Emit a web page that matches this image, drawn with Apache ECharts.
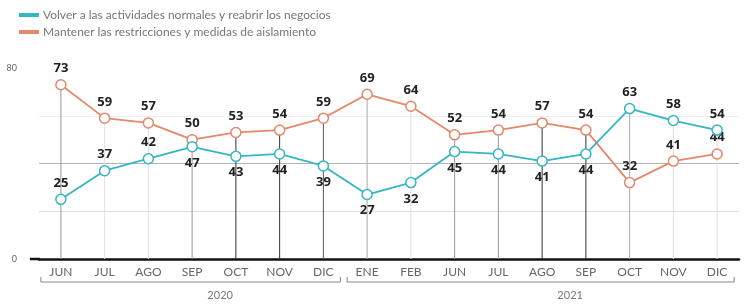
<!DOCTYPE html>
<html>
<head>
<meta charset="utf-8">
<script src="https://cdn.jsdelivr.net/npm/echarts@6/dist/echarts.min.js"></script>
<style>
  html, body { margin: 0; padding: 0; background: #fff; }
  #box { width: 744px; height: 305px; }
</style>
</head>
<body>
<div id="box"></div>
<script>
const aMonths = ['JUN', 'JUL', 'AGO', 'SEP', 'OCT', 'NOV', 'DIC', 'ENE', 'FEB', 'JUN', 'JUL', 'AGO', 'SEP', 'OCT', 'NOV', 'DIC'];
const aYears = ['2020', '2021'];
const aYearSpan = [7, 9]; // meses por año
const aVolver = [25, 37, 42, 47, 43, 44, 39, 27, 32, 45, 44, 41, 44, 63, 58, 54];
const aMantener = [73, 59, 57, 50, 53, 54, 59, 69, 64, 52, 54, 57, 54, 32, 41, 44];
const sNameVolver = 'Volver a las actividades normales y reabrir los negocios';
const sNameMantener = 'Mantener las restricciones y medidas de aislamiento';

const sTeal = '#36b5c2';
const sOrange = '#e4896a';
// tono de cada línea vertical
const aDropShade = ['#999', '#e2e2e2', '#e2e2e2', '#999', '#333', '#333', '#555', '#aaa', '#e2e2e2', '#999', '#999', '#333', '#333', '#aaa', '#e2e2e2', '#e2e2e2'];
// ▼etiquetas de "Volver": debajo del punto en el medio
const aBelow = [3, 4, 5, 6, 7, 8, 9, 10, 11, 12];

const myChart = echarts.init(document.getElementById('box'));

const oLabel = {
    show: true,
    fontFamily: 'Open Sans',
    fontWeight: 'bold',
    fontSize: 13,
    color: '#222',
    distance: 4,
};

const option = {
    animation: false,
    legend: {
        orient: 'vertical',
        left: 14,
        top: 4,
        itemGap: 5,
        itemWidth: 18,
        itemHeight: 2,
        icon: 'rect',
        data: [sNameVolver, sNameMantener],
        textStyle: { fontFamily: 'Lato', fontSize: 12, color: '#777' },
    },
    grid: { left: 39, right: 5, top: 68, bottom: 46 },
    xAxis: {
        type: 'category',
        data: aMonths,
        axisLine: { lineStyle: { color: '#111', width: 2.5 } },
        axisTick: { show: false },
        axisLabel: { fontFamily: 'Lato', fontSize: 12, color: '#666', margin: 7 },
    },
    yAxis: {
        type: 'value',
        min: 0,
        max: 80,
        interval: 20,
        axisLine: { show: false },
        axisTick: { show: false },
        axisLabel: {
            fontFamily: 'Lato', fontSize: 9, color: '#666', margin: 22,
            formatter: v => (v === 0 || v === 80) ? v : '',
        },
        splitLine: { lineStyle: { color: ['#fff', '#ddd', '#b5b5b5', '#eee', '#fff'], width: 1 } },
    },
    series: [{
        name: 'drop',
        type: 'bar',
        barWidth: 1,
        silent: true,
        z: 1,
        data: aVolver.map((v, i) => ({
            value: Math.max(v, aMantener[i]),
            itemStyle: { color: aDropShade[i] },
        })),
    }, {
        name: sNameMantener,
        type: 'line',
        z: 3,
        color: sOrange,
        symbol: 'circle',
        symbolSize: 10,
        itemStyle: { color: '#fff', borderColor: sOrange, borderWidth: 1.5 },
        lineStyle: { color: sOrange, width: 1.8 },
        label: { ...oLabel, position: 'top' },
        data: aMantener,
    }, {
        name: sNameVolver,
        type: 'line',
        z: 4,
        color: sTeal,
        symbol: 'circle',
        symbolSize: 10,
        itemStyle: { color: '#fff', borderColor: sTeal, borderWidth: 1.5 },
        lineStyle: { color: sTeal, width: 1.8 },
        data: aVolver.map((v, i) => ({
            value: v,
            label: { ...oLabel, position: aBelow.includes(i) ? 'bottom' : 'top' },
        })),
    }],
};
myChart.setOption(option);

// ▼corchetes de año bajo el eje
const aGraphic = [];
const yAxis0 = myChart.convertToPixel({ yAxisIndex: 0 }, 0);
const xFirst = myChart.convertToPixel({ xAxisIndex: 0 }, 0) - 22;
// el eje se prolonga un poco a la izquierda
aGraphic.push({ type: 'line', shape: { x1: xFirst - 9, y1: yAxis0, x2: xFirst + 1, y2: yAxis0 }, style: { stroke: '#111', lineWidth: 2.5 }, silent: true });
let iStart = 0;
aYears.forEach((sYear, k) => {
    const iEnd = iStart + aYearSpan[k] - 1;
    const x0 = myChart.convertToPixel({ xAxisIndex: 0 }, iStart) - 21;
    const x1 = myChart.convertToPixel({ xAxisIndex: 0 }, iEnd) + 21;
    const y = 282;
    const oStyle = { stroke: '#888', lineWidth: 1 };
    aGraphic.push(
        { type: 'polyline', shape: { points: [[x0 + 1, y - 5], [x0 + 1, y], [x1 - 4, y], [x1 - 4, y - 5]] }, style: oStyle, silent: true },
        { type: 'text', x: (x0 + x1) / 2 + 28, y: 295, style: { text: sYear, fill: '#777', fontFamily: 'Lato', fontSize: 11, align: 'center', verticalAlign: 'middle' } },
    );
    iStart = iEnd + 1;
});
myChart.setOption({ graphic: aGraphic });
</script>
</body>
</html>
